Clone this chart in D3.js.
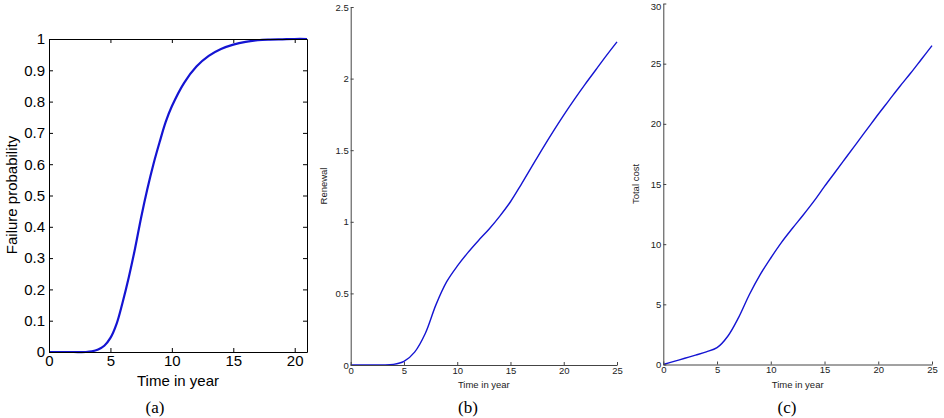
<!DOCTYPE html>
<html>
<head>
<meta charset="utf-8">
<script src="https://cdn.jsdelivr.net/npm/d3@7"></script>
<style>
  body { margin: 0; background: #fff; }
  svg { display: block; }
  .small text { font-family: "Liberation Sans", Arimo, Arial, sans-serif; font-size: 9.5px; fill: #222; }
  .big text { font-family: "Liberation Sans", Arimo, Arial, sans-serif; font-size: 15px; fill: #000; }
  .cap { font-family: "Liberation Serif", "Times New Roman", serif; font-size: 17px; fill: #000; }
</style>
</head>
<body>
<svg id="chart" width="944" height="418"></svg>
<script>
// (a) failure probability
var failT = [0, 1, 2, 3, 3.5, 4, 4.5, 5, 5.5, 6, 6.5, 7, 7.5, 8, 8.5, 9, 9.5, 10, 11, 12, 13, 14, 15, 16, 17, 18, 19, 20, 21]
var failP = [0, 0, 0, 0, 0.002, 0.008, 0.02, 0.045, 0.09, 0.16, 0.24, 0.33, 0.43, 0.52, 0.6, 0.67, 0.735, 0.785, 0.86, 0.912, 0.946, 0.968, 0.982, 0.991, 0.996, 0.998, 0.999, 1, 1]
var failXTicks = [0, 5, 10, 15, 20]
var failYTicks = [0, 0.1, 0.2, 0.3, 0.4, 0.5, 0.6, 0.7, 0.8, 0.9, 1]

// (b) renewal
var renewT = [0, 1, 2, 3, 4, 5, 6, 7, 8, 9, 10, 11, 12, 13, 14, 15, 16, 17, 18, 19, 20, 21, 22, 23, 24, 25]
var renewVal = [0, 0, 0, 0, 0.004, 0.025, 0.09, 0.22, 0.42, 0.58, 0.69, 0.785, 0.87, 0.95, 1.04, 1.14, 1.26, 1.385, 1.51, 1.63, 1.745, 1.855, 1.96, 2.06, 2.16, 2.256]
var renewXTicks = [0, 5, 10, 15, 20, 25]
var renewYTicks = [0, 0.5, 1, 1.5, 2, 2.5]

// (c) total cost
var costT = [0, 1, 2, 3, 4, 5, 6, 7, 8, 9, 10, 11, 12, 13, 14, 15, 16, 17, 18, 19, 20, 21, 22, 23, 24, 25]
var costVal = [0, 0.26, 0.52, 0.78, 1.05, 1.4, 2.35, 3.9, 5.8, 7.45, 8.85, 10.15, 11.3, 12.4, 13.55, 14.8, 16.0, 17.2, 18.4, 19.6, 20.8, 21.95, 23.1, 24.2, 25.35, 26.5]
var costXTicks = [0, 5, 10, 15, 20, 25]
var costYTicks = [0, 5, 10, 15, 20, 25, 30]

var svg = d3.select('#chart')
var blue = '#1414d2'
var smooth = d3.curveCatmullRom.alpha(0.5)

// ---------------- panel (a): boxed, big fonts ----------------
var a = { left: 49, right: 307, top: 39, bottom: 352 }
var ax = d3.scaleLinear().domain([0, 21]).range([a.left, a.right])
var ay = d3.scaleLinear().domain([0, 1]).range([a.bottom, a.top])
var ga = svg.append('g').attr('class', 'big')

ga.append('path')
  .datum(failT.map((t, i) => [t, failP[i]]))
  .attr('fill', 'none')
  .attr('stroke', blue)
  .attr('stroke-width', 2.2)
  .attr('d', d3.line().x(d => ax(d[0])).y(d => ay(d[1])).curve(smooth))

const boxAxis = (axis, transform, labels) => {
  var g = ga.append('g').attr('transform', transform)
    .call(axis.tickSizeInner(-4).tickSizeOuter(0).tickPadding(4).tickFormat(labels ? d3.format('') : ''))
  g.selectAll('path.domain, line').attr('stroke', '#000').attr('stroke-width', 1)
  return g
}
var xb = boxAxis(d3.axisBottom(ax).tickValues(failXTicks), 'translate(0,' + a.bottom + ')', true)
xb.selectAll('text').attr('dy', '0.75em').attr('y', 3)
boxAxis(d3.axisTop(ax).tickValues(failXTicks), 'translate(0,' + a.top + ')', false)
var yb = boxAxis(d3.axisLeft(ay).tickValues(failYTicks), 'translate(' + a.left + ',0)', true)
yb.selectAll('text').attr('x', -4)
boxAxis(d3.axisRight(ay).tickValues(failYTicks), 'translate(' + a.right + ',0)', false)

ga.append('text').attr('x', 178).attr('y', 386).attr('text-anchor', 'middle').text('Time in year')
ga.append('text').attr('transform', 'translate(17,195) rotate(-90)').attr('text-anchor', 'middle').text('Failure probability')

// ---------------- panels (b) and (c): open axes, small fonts ----------------
const smallPanel = (box, xDom, yDom, ts, vs, xTicks, yTicks, ylabel) => {
  var x = d3.scaleLinear().domain(xDom).range([box.left, box.right])
  var y = d3.scaleLinear().domain(yDom).range([box.bottom, box.top])
  var g = svg.append('g').attr('class', 'small')

  g.append('path')
    .datum(ts.map((t, i) => [t, vs[i]]))
    .attr('fill', 'none')
    .attr('stroke', blue)
    .attr('stroke-width', 1.4)
    .attr('d', d3.line().x(d => x(d[0])).y(d => y(d[1])).curve(smooth))

  var gx = g.append('g').attr('transform', 'translate(0,' + box.bottom + ')')
    .call(d3.axisBottom(x).tickValues(xTicks).tickSizeInner(-3).tickSizeOuter(0).tickPadding(3))
  gx.selectAll('text').attr('y', 2)
  var gy = g.append('g').attr('transform', 'translate(' + box.left + ',0)')
    .call(d3.axisLeft(y).tickValues(yTicks).tickSizeInner(-3).tickSizeOuter(0).tickPadding(2).tickFormat(d3.format('')))
  gy.selectAll('text').attr('x', -2)
  // keep the topmost label inside the picture
  gy.selectAll('.tick text').filter(d => d === yDom[1]).attr('dy', y(yDom[1]) < 5 ? '0.6em' : '0.32em')
  g.selectAll('path.domain, line').attr('stroke', '#444').attr('stroke-width', 1)

  g.append('text').attr('x', (box.left + box.right) / 2).attr('y', 388).attr('text-anchor', 'middle').text('Time in year')
  g.append('text').attr('transform', 'translate(' + (box.left - 24) + ',' + ((box.top + box.bottom) / 2) + ') rotate(-90)')
    .attr('text-anchor', 'middle').text(ylabel)
}

smallPanel({ left: 350.7, right: 617, top: 7, bottom: 365 }, [0, 25], [0, 2.5],
  renewT, renewVal, renewXTicks, renewYTicks, 'Renewal')
smallPanel({ left: 663.3, right: 932, top: 3.5, bottom: 364.5 }, [0, 25], [0, 30],
  costT, costVal, costXTicks, costYTicks, 'Total cost')

// captions
svg.append('text').attr('class', 'cap').attr('x', 155).attr('y', 413).attr('text-anchor', 'middle').text('(a)')
svg.append('text').attr('class', 'cap').attr('x', 468).attr('y', 413).attr('text-anchor', 'middle').text('(b)')
svg.append('text').attr('class', 'cap').attr('x', 787).attr('y', 413).attr('text-anchor', 'middle').text('(c)')
</script>
</body>
</html>
